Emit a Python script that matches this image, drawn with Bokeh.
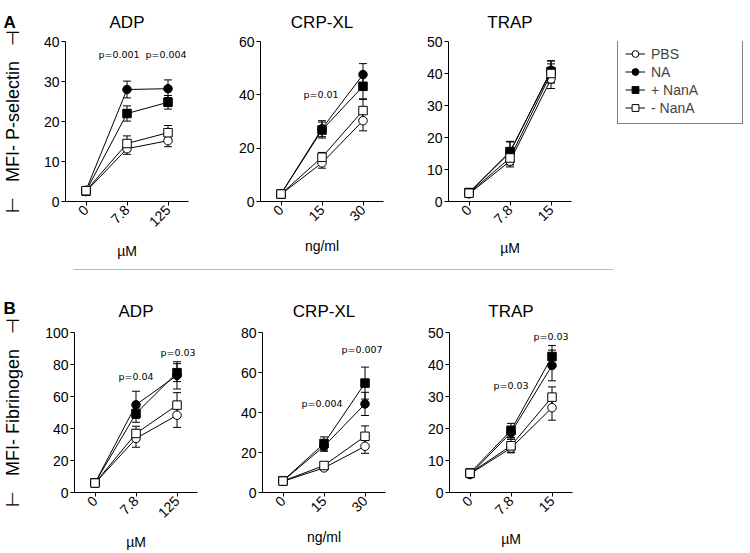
import math
from bokeh.plotting import figure
from bokeh.layouts import row, column
from bokeh.models import (ColumnDataSource, Whisker, TeeHead, Label, Legend, LegendItem,
                          Range1d, FixedTicker, Span, Spacer)
from bokeh.embed import file_html
from bokeh.resources import INLINE

FONT = "Liberation Sans"
PFONT = "DejaVu Sans"

SERIES = ["PBS", "NA", "+ NanA", "- NanA"]
MARKERS = ["circle", "circle", "square", "square"]
FILLS = ["white", "black", "black", "white"]

# x categories (agonist doses)
ADP_DOSES = ["0", "7.8", "125"]
CRP_DOSES = ["0", "15", "30"]
TRAP_DOSES = ["0", "7.8", "15"]

# ---------- Panel A : MFI- P-selectin (mean, SEM) ----------
A_ADP_PBS = [2.5, 13.2, 15.2];   A_ADP_PBS_SEM = [0.5, 1.4, 1.5]
A_ADP_NA = [2.8, 28.0, 28.2];    A_ADP_NA_SEM = [0.5, 2.1, 2.2]
A_ADP_PNANA = [2.6, 22.0, 24.8]; A_ADP_PNANA_SEM = [0.5, 1.9, 1.7]
A_ADP_MNANA = [2.7, 14.5, 17.2]; A_ADP_MNANA_SEM = [0.5, 1.9, 1.8]

A_CRP_PBS = [2.7, 14.5, 30.3];   A_CRP_PBS_SEM = [0.5, 2.0, 3.8]
A_CRP_NA = [2.9, 27.3, 47.6];    A_CRP_NA_SEM = [0.5, 3.0, 4.1]
A_CRP_PNANA = [2.8, 26.8, 43.2]; A_CRP_PNANA_SEM = [0.5, 3.0, 4.7]
A_CRP_MNANA = [2.8, 16.6, 34.1]; A_CRP_MNANA_SEM = [0.5, 1.8, 4.2]

A_TRAP_PBS = [2.4, 12.6, 38.3];   A_TRAP_PBS_SEM = [0.5, 1.8, 3.0]
A_TRAP_NA = [2.7, 15.3, 41.0];    A_TRAP_NA_SEM = [0.5, 3.5, 3.0]
A_TRAP_PNANA = [2.8, 15.6, 40.6]; A_TRAP_PNANA_SEM = [0.5, 3.0, 3.3]
A_TRAP_MNANA = [2.6, 13.6, 40.0]; A_TRAP_MNANA_SEM = [0.5, 2.2, 3.0]

# ---------- Panel B : MFI- Fibrinogen (mean, SEM) ----------
B_ADP_PBS = [5.8, 33.8, 48.3];   B_ADP_PBS_SEM = [0.6, 5.5, 7.6]
B_ADP_NA = [6.0, 54.8, 73.2];    B_ADP_NA_SEM = [0.6, 8.5, 8.5]
B_ADP_PNANA = [6.1, 49.4, 74.9]; B_ADP_PNANA_SEM = [0.6, 5.5, 5.6]
B_ADP_MNANA = [5.9, 36.9, 54.6]; B_ADP_MNANA_SEM = [0.6, 4.5, 7.8]

B_CRP_PBS = [5.6, 12.3, 23.1];   B_CRP_PBS_SEM = [0.5, 1.0, 3.5]
B_CRP_NA = [5.8, 23.1, 44.3];    B_CRP_NA_SEM = [0.5, 2.5, 5.8]
B_CRP_PNANA = [5.9, 24.5, 54.7]; B_CRP_PNANA_SEM = [0.5, 3.3, 8.0]
B_CRP_MNANA = [5.7, 13.5, 28.1]; B_CRP_MNANA_SEM = [0.5, 1.2, 5.2]

B_TRAP_PBS = [5.8, 13.9, 26.5];   B_TRAP_PBS_SEM = [0.5, 1.5, 3.9]
B_TRAP_NA = [5.6, 18.7, 39.7];    B_TRAP_NA_SEM = [0.5, 2.0, 4.8]
B_TRAP_PNANA = [6.1, 19.4, 42.5]; B_TRAP_PNANA_SEM = [0.5, 2.2, 3.4]
B_TRAP_MNANA = [6.0, 14.6, 29.8]; B_TRAP_MNANA_SEM = [0.5, 2.0, 3.2]

# p-value annotations: (text, dose index, y value, pixel x-offset)
A_ADP_P = [("p=0.001", 1, 36.8, -8), ("p=0.004", 2, 36.8, -2)]
A_CRP_P = [("p=0.01", 1, 40.2, -1)]
A_TRAP_P = []
B_ADP_P = [("p=0.04", 1, 72.7, 0), ("p=0.03", 2, 87.6, 1)]
B_CRP_P = [("p=0.004", 1, 44.7, -2), ("p=0.007", 2, 71.6, -3)]
B_TRAP_P = [("p=0.03", 1, 33.5, 0), ("p=0.03", 2, 48.6, -1)]

HA = 262   # row A height
HB = 281   # row B height


def style_axes(p):
    for ax in (p.xaxis, p.yaxis):
        ax.axis_line_color = "black"
        ax.axis_line_width = 1
        ax.major_tick_line_color = "black"
        ax.major_tick_in = 0
        ax.major_tick_out = 4
        ax.minor_tick_line_color = None
        ax.major_label_text_font = FONT
        ax.major_label_text_color = "black"


def panel(title, doses, unit, means, sems, ymax, ystep, pvals,
          width, height, left, right, top, bottom, title_standoff):
    p = figure(width=width, height=height, x_range=doses, y_range=Range1d(0, ymax),
               output_backend="svg", toolbar_location=None, title=title,
               min_border_left=left, min_border_right=right,
               min_border_top=top, min_border_bottom=bottom)
    p.outline_line_color = None
    p.grid.visible = False
    p.title.align = "center"
    p.title.text_font = FONT
    p.title.text_font_size = "17px"
    p.title.text_font_style = "normal"
    p.title.text_color = "black"
    p.title.standoff = title_standoff

    style_axes(p)
    p.yaxis.ticker = FixedTicker(ticks=list(range(0, ymax + 1, ystep)))
    p.yaxis.major_label_text_font_size = "14px"
    p.yaxis.major_label_standoff = 2
    p.xaxis.major_label_text_font_size = "14px"
    p.xaxis.major_label_orientation = math.pi / 4
    p.xaxis.major_label_standoff = 2
    p.xaxis.axis_label = unit
    p.xaxis.axis_label_text_font = FONT
    p.xaxis.axis_label_text_font_style = "normal"
    p.xaxis.axis_label_text_font_size = "14px"
    p.xaxis.axis_label_text_color = "black"
    p.xaxis.axis_label_standoff = 9

    for name, mk, fc, m, s in zip(SERIES, MARKERS, FILLS, means, sems):
        src = ColumnDataSource(dict(x=doses, y=m,
                                    upper=[a + b for a, b in zip(m, s)],
                                    lower=[a - b for a, b in zip(m, s)]))
        p.line("x", "y", source=src, line_color="black", line_width=1)
        p.add_layout(Whisker(base="x", upper="upper", lower="lower", source=src,
                             line_color="black", line_width=1,
                             upper_head=TeeHead(size=8, line_color="black", line_width=1),
                             lower_head=TeeHead(size=8, line_color="black", line_width=1)))
        p.scatter("x", "y", source=src, marker=mk, size=8.5,
                  fill_color=fc, line_color="black", line_width=1)

    for txt, idx, yv, off in pvals:
        p.add_layout(Label(x=idx + 0.5, y=yv, text=txt, x_offset=off,
                           text_font=PFONT, text_font_size="9.5px", text_color="black",
                           text_align="center", text_baseline="middle"))
    return p


def side(height, letter, ytitle, letter_standoff):
    f = figure(width=22, height=height, x_range=Range1d(0, 1), y_range=Range1d(0, 1),
               x_axis_type=None, output_backend="svg", toolbar_location=None,
               title=letter, min_border_left=0, min_border_right=0)
    f.outline_line_color = None
    f.grid.visible = False
    f.title.align = "left"
    f.title.offset = -19
    f.title.text_font = FONT
    f.title.text_font_size = "17px"
    f.title.text_font_style = "bold"
    f.title.text_color = "black"
    f.title.standoff = letter_standoff
    ax = f.yaxis[0]
    ax.ticker = FixedTicker(ticks=[])
    ax.axis_line_color = None
    ax.major_tick_line_color = None
    ax.minor_tick_line_color = None
    ax.major_tick_out = 0
    ax.major_tick_in = 0
    ax.minor_tick_out = 0
    ax.minor_tick_in = 0
    ax.major_label_standoff = 0
    ax.axis_label = ytitle
    ax.axis_label_standoff = 0
    ax.axis_label_text_font = FONT
    ax.axis_label_text_font_size = "18px"
    ax.axis_label_text_font_style = "normal"
    ax.axis_label_text_color = "black"
    return f


def legend_box(width, height, top, bottom):
    # a frame that only carries the legend; its renderers repeat the series styles
    f = figure(width=width, height=height, x_range=TRAP_DOSES, y_range=Range1d(0, 50),
               x_axis_type=None, y_axis_type=None, output_backend="svg",
               toolbar_location=None, min_border_left=0, min_border_right=0,
               min_border_top=top, min_border_bottom=bottom)
    f.outline_line_color = None
    items = []
    for name, mk, fc, m in zip(SERIES, MARKERS, FILLS,
                               [A_TRAP_PBS, A_TRAP_NA, A_TRAP_PNANA, A_TRAP_MNANA]):
        src = ColumnDataSource(dict(x=TRAP_DOSES, y=m))
        lr = f.line("x", "y", source=src, line_color="black", line_width=1, visible=False)
        sr = f.scatter("x", "y", source=src, marker=mk, size=8.5, fill_color=fc,
                       line_color="black", line_width=1, visible=False)
        items.append(LegendItem(label=name, renderers=[lr, sr]))
    lg = Legend(items=items, location=(7, 77), margin=0, padding=7,
                spacing=1, label_height=17, glyph_height=17, glyph_width=20,
                label_standoff=6, label_width=84,
                label_text_font=FONT, label_text_font_size="14px",
                border_line_color="black", border_line_width=1,
                background_fill_color="white", background_fill_alpha=1)
    f.add_layout(lg)
    return f


a1 = panel("ADP", ADP_DOSES, "\u00b5M",
           [A_ADP_PBS, A_ADP_NA, A_ADP_PNANA, A_ADP_MNANA],
           [A_ADP_PBS_SEM, A_ADP_NA_SEM, A_ADP_PNANA_SEM, A_ADP_MNANA_SEM],
           40, 10, A_ADP_P, 203, HA, 43, 37, 40, 61, 19)
a2 = panel("CRP-XL", CRP_DOSES, "ng/ml",
           [A_CRP_PBS, A_CRP_NA, A_CRP_PNANA, A_CRP_MNANA],
           [A_CRP_PBS_SEM, A_CRP_NA_SEM, A_CRP_PNANA_SEM, A_CRP_MNANA_SEM],
           60, 20, A_CRP_P, 188, HA, 35, 30, 40, 61, 19)
a3 = panel("TRAP", TRAP_DOSES, "\u00b5M",
           [A_TRAP_PBS, A_TRAP_NA, A_TRAP_PNANA, A_TRAP_MNANA],
           [A_TRAP_PBS_SEM, A_TRAP_NA_SEM, A_TRAP_PNANA_SEM, A_TRAP_MNANA_SEM],
           50, 10, A_TRAP_P, 197, HA, 35, 39, 40, 61, 19)
lgA = legend_box(138, HA, 40, 61)

b1 = panel("ADP", ADP_DOSES, "\u00b5M",
           [B_ADP_PBS, B_ADP_NA, B_ADP_PNANA, B_ADP_MNANA],
           [B_ADP_PBS_SEM, B_ADP_NA_SEM, B_ADP_PNANA_SEM, B_ADP_MNANA_SEM],
           100, 20, B_ADP_P, 205, HB, 52, 30, 60, 60, 23)
b2 = panel("CRP-XL", CRP_DOSES, "ng/ml",
           [B_CRP_PBS, B_CRP_NA, B_CRP_PNANA, B_CRP_MNANA],
           [B_CRP_PBS_SEM, B_CRP_NA_SEM, B_CRP_PNANA_SEM, B_CRP_MNANA_SEM],
           80, 20, B_CRP_P, 187, HB, 35, 29, 60, 60, 23)
b3 = panel("TRAP", TRAP_DOSES, "\u00b5M",
           [B_TRAP_PBS, B_TRAP_NA, B_TRAP_PNANA, B_TRAP_MNANA],
           [B_TRAP_PBS_SEM, B_TRAP_NA_SEM, B_TRAP_PNANA_SEM, B_TRAP_MNANA_SEM],
           50, 10, B_TRAP_P, 334, HB, 35, 176, 60, 60, 23)

NB = "\u00a0\u00a0\u00a0"
sa = side(HA, "A", "\u22a2" + NB + "MFI- P-selectin" + NB + "\u22a3", 20)
sb = side(HB, "B", "\u22a2" + NB + "MFI- Fibrinogen" + NB + "\u22a3", 29)

sep = figure(width=540, height=10, x_range=Range1d(0, 1), y_range=Range1d(0, 1),
             x_axis_type=None, y_axis_type=None, output_backend="svg",
             toolbar_location=None, min_border=0)
sep.outline_line_color = None
sep.add_layout(Span(location=0.5, dimension="width", line_color="#777777",
                    line_width=1, line_dash="1 1"))

layout = column(row(sa, a1, a2, a3, lgA),
                row(Spacer(width=73, height=10), sep),
                row(sb, b1, b2, b3))

open("out.html", "w").write(file_html(layout, INLINE))
